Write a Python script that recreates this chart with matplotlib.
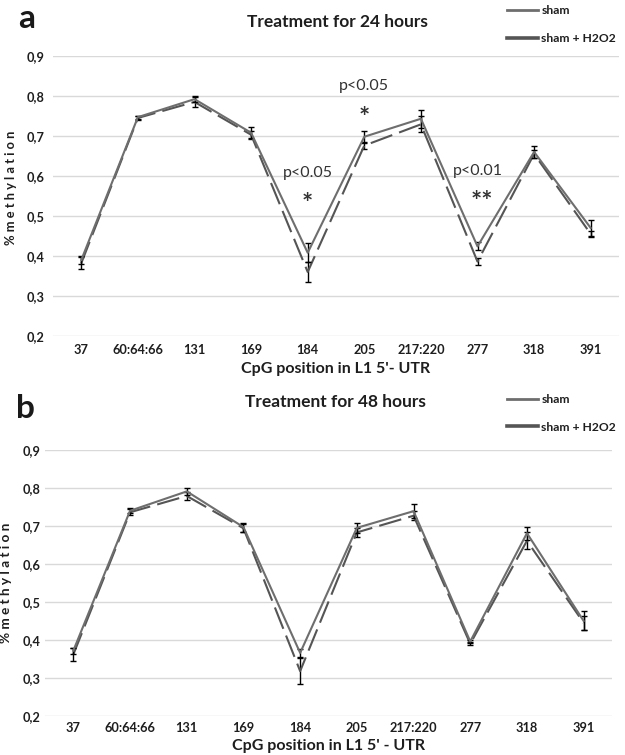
import matplotlib
matplotlib.use("Agg")
import matplotlib.pyplot as plt
from matplotlib.lines import Line2D

plt.rcParams['font.family'] = ['Lato', 'DejaVu Sans']

categories = ["37", "60:64:66", "131", "169", "184", "205", "217:220", "277", "318", "391"]

# Panel a: 24 hours
sham_24 = [0.390, 0.747, 0.792, 0.708, 0.408, 0.698, 0.743, 0.424, 0.660, 0.470]
sham_24_err = [0.010, 0.004, 0.008, 0.014, 0.024, 0.015, 0.022, 0.010, 0.015, 0.020]
h2o2_24 = [0.382, 0.745, 0.785, 0.703, 0.360, 0.676, 0.729, 0.386, 0.655, 0.455]
h2o2_24_err = [0.015, 0.004, 0.012, 0.010, 0.025, 0.008, 0.020, 0.008, 0.010, 0.008]

# Panel b: 48 hours
sham_48 = [0.372, 0.740, 0.791, 0.697, 0.366, 0.695, 0.739, 0.396, 0.681, 0.450]
sham_48_err = [0.008, 0.006, 0.009, 0.012, 0.010, 0.014, 0.018, 0.004, 0.017, 0.025]
h2o2_48 = [0.362, 0.736, 0.779, 0.694, 0.318, 0.683, 0.727, 0.390, 0.661, 0.445]
h2o2_48_err = [0.018, 0.008, 0.011, 0.010, 0.035, 0.012, 0.012, 0.004, 0.022, 0.018]

# significance annotations for panel a
annot_idx = [4, 5, 7]
annot_p = ["p<0.05", "p<0.05", "p<0.01"]
annot_star = ["*", "*", "**"]
annot_py = [0.608, 0.825, 0.613]
annot_sy = [0.530, 0.745, 0.534]

yticks = [0.2, 0.3, 0.4, 0.5, 0.6, 0.7, 0.8, 0.9]
ytick_labels = ["0,2", "0,3", "0,4", "0,5", "0,6", "0,7", "0,8", "0,9"]

SHAM_C = "#6e6e6e"
H2O2_C = "#555555"
TXT = "#1e1e1e"

fig = plt.figure(figsize=(6.25, 7.55), dpi=100)
ax_a = fig.add_axes([53 / 625, 0.555, 566 / 625, 0.3709])
ax_b = fig.add_axes([45 / 625, 0.0517, 567 / 625, 0.3523])


def draw(ax, sham, sham_err, h2o2, h2o2_err, xlabel, ylabel, ylsize, pad_y, pad_x):
    x = list(range(len(categories)))
    ax.errorbar(x, h2o2, yerr=h2o2_err, color=H2O2_C, lw=1.5, dashes=(11, 3.5),
                ecolor="black", elinewidth=1.0, capsize=2.5, capthick=1.0, zorder=3)
    ax.errorbar(x, sham, yerr=sham_err, color=SHAM_C, lw=1.5,
                ecolor="black", elinewidth=1.0, capsize=2.5, capthick=1.0, zorder=4)
    ax.set_xlim(-0.5, len(categories) - 0.5)
    ax.set_ylim(0.2, 0.9)
    ax.set_yticks(yticks)
    ax.set_yticklabels(ytick_labels, fontsize=9.2, fontweight="bold", color=TXT)
    ax.set_xticks(x)
    ax.set_xticklabels(categories, fontsize=9.2, fontweight="bold", color=TXT)
    ax.tick_params(axis="both", length=0)
    ax.tick_params(axis="y", pad=pad_y)
    ax.tick_params(axis="x", pad=pad_x)
    ax.grid(axis="y", color="#d9d9d9", lw=1.0, zorder=0)
    ax.set_axisbelow(True)
    for s in ax.spines.values():
        s.set_visible(False)
    ax.set_xlabel(xlabel, fontsize=11.5, fontweight="bold", color=TXT, labelpad=4)
    ax.set_ylabel(ylabel, fontsize=ylsize, fontweight="bold", color=TXT, labelpad=7)
    handles = [Line2D([0], [0], color=SHAM_C, lw=2.0),
               Line2D([0], [0], color=H2O2_C, lw=2.6)]
    return handles


h = draw(ax_a, sham_24, sham_24_err, h2o2_24, h2o2_24_err,
         "CpG position in L1 5'- UTR", "% m e t h y l a t i o n", 9.3, 6, 6)
ax_a.yaxis.set_label_coords(-0.064, 0.53)
draw(ax_b, sham_48, sham_48_err, h2o2_48, h2o2_48_err,
     "CpG position in L1 5' - UTR", "% m e t h y l a t i o n", 9.8, 3, 4)
ax_b.yaxis.set_label_coords(-0.058, 0.5)

for i, pt, st, py, sy in zip(annot_idx, annot_p, annot_star, annot_py, annot_sy):
    ax_a.text(i, py, pt, ha="center", va="center", fontsize=11.5, color="#333333")
    ax_a.text(i + (0.08 if st == "**" else 0), sy, st, ha="center", va="center",
              fontsize=19, fontweight="bold", color="#333333")

# titles, panel letters, legends
fig.text(337 / 625, 1 - 22 / 755, "Treatment for 24 hours", ha="center", va="center",
         fontsize=12.5, fontweight="bold", color=TXT)
fig.text(335 / 625, 1 - 402 / 755, "Treatment for 48 hours", ha="center", va="center",
         fontsize=12.5, fontweight="bold", color=TXT)
fig.text(27 / 625, 1 - 19 / 755, "a", ha="center", va="center", fontsize=24,
         fontweight="bold", color="#1a1a1a")
fig.text(25 / 625, 1 - 409 / 755, "b", ha="center", va="center", fontsize=24,
         fontweight="bold", color="#1a1a1a")

labels = ["sham", "sham + H2O2"]
for top in (1 - 3 / 755, 1 - 392 / 755):
    leg = fig.legend(h, labels, loc="upper left", bbox_to_anchor=(505 / 625, top),
                     frameon=False, handlelength=2.5, handletextpad=0.3,
                     labelspacing=1.35, borderaxespad=0, borderpad=0.2,
                     prop={"size": 8.7, "weight": "bold"})
    for t in leg.get_texts():
        t.set_color(TXT)

fig.savefig("out.png", dpi=100)
